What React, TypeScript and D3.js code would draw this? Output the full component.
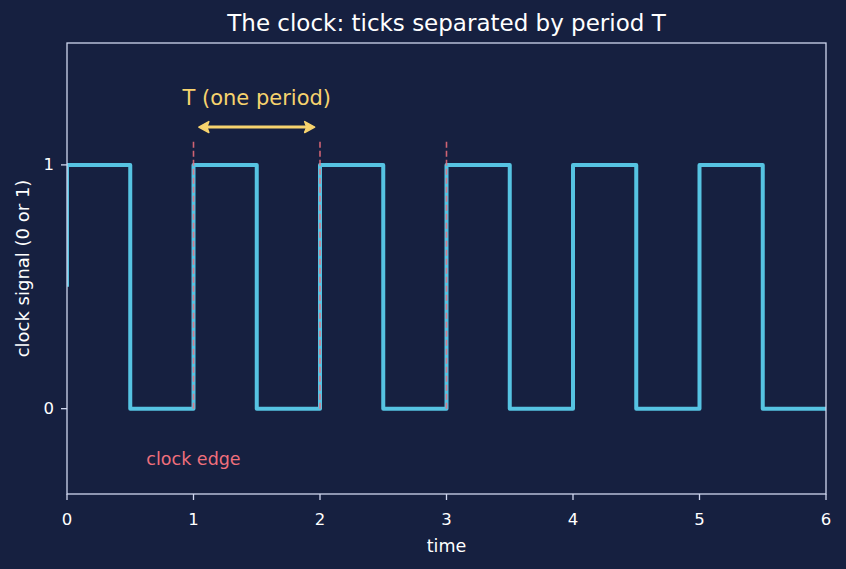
import React from 'react';
import * as d3 from 'd3';

// Clock signal: times of each level change and the level that follows
const edgeTimes = [0, 0, 0.5, 1, 1.5, 2, 2.5, 3, 3.5, 4, 4.5, 5, 5.5, 6];
const levels = [0.5, 1, 0, 1, 0, 1, 0, 1, 0, 1, 0, 1, 0, 0];

// Rising edges that are marked
const markedEdges = [1, 2, 3];

const xTicks = [0, 1, 2, 3, 4, 5, 6];
const yTicks = [0, 1];

const W = 846;
const H = 569;
const margin = { top: 43, right: 20, bottom: 75, left: 67 };

const BG = '#162040';
const AXIS = '#cfd6ee';
const LINE = '#56c3e2';
const EDGE = '#ef6f7c';
const GOLD = '#f7d36e';

const App: React.FC = () => {
  const x = d3.scaleLinear().domain([0, 6]).range([margin.left, W - margin.right]);
  const y = d3.scaleLinear().domain([-0.35, 1.5]).range([H - margin.bottom, margin.top]);

  const pts: [number, number][] = edgeTimes.map((t, i) => [t, levels[i]]);
  const line = d3
    .line<[number, number]>()
    .x((d) => x(d[0]))
    .y((d) => y(d[1]))
    .curve(d3.curveStepAfter);

  const font = "'DejaVu Sans', sans-serif";
  const x0 = x(0);
  const x1 = x(6);
  const yb = y(-0.35);
  const yt = y(1.5);
  const ya = y(1.155);

  return (
    <svg width={W} height={H} style={{ position: 'absolute', left: 0, top: 0, background: BG }} fontFamily={font}>
      <rect width={W} height={H} fill={BG} />
      <defs>
        <clipPath id="plot">
          <rect x={x0} y={yt} width={x1 - x0} height={yb - yt} />
        </clipPath>
      </defs>

      <path
        d={line(pts) ?? ''}
        fill="none"
        stroke={LINE}
        strokeWidth={4}
        strokeLinejoin="round"
        clipPath="url(#plot)"
      />

      {/* edge markers */}
      {markedEdges.map((t) => (
        <line
          key={t}
          x1={x(t)}
          x2={x(t)}
          y1={y(0)}
          y2={y(1.1)}
          stroke={EDGE}
          strokeWidth={1.6}
          strokeDasharray="6 3"
          opacity={0.85}
        />
      ))}

      {/* period arrow */}
      <g stroke={GOLD} fill={GOLD}>
        <line x1={x(1.05) + 6} x2={x(1.95) - 6} y1={ya} y2={ya} strokeWidth={3} />
        <path d={`M${x(1.05) - 1},${ya} l10,-5.5 l-2,5.5 l2,5.5 z`} strokeWidth={1.5} strokeLinejoin="round" />
        <path d={`M${x(1.95) + 1},${ya} l-10,-5.5 l2,5.5 l-2,5.5 z`} strokeWidth={1.5} strokeLinejoin="round" />
      </g>
      <text x={x(1.5)} y={y(1.27)} textAnchor="middle" fill={GOLD} fontSize={21} dominantBaseline="middle">
        T (one period)
      </text>
      <text x={x(1)} y={y(-0.21)} textAnchor="middle" fill={EDGE} fontSize={17.5} dominantBaseline="middle">
        clock edge
      </text>

      {/* frame */}
      <rect x={x0} y={yt} width={x1 - x0} height={yb - yt} fill="none" stroke={AXIS} strokeWidth={1.3} />

      {/* x ticks */}
      {xTicks.map((t) => (
        <g key={t}>
          <line x1={x(t)} x2={x(t)} y1={yb} y2={yb + 6} stroke={AXIS} strokeWidth={1.3} />
          <text x={x(t)} y={yb + 31} textAnchor="middle" fill="#ffffff" fontSize={16.5}>
            {t}
          </text>
        </g>
      ))}
      {yTicks.map((t) => (
        <g key={t}>
          <line x1={x0 - 6} x2={x0} y1={y(t)} y2={y(t)} stroke={AXIS} strokeWidth={1.3} />
          <text x={x0 - 13} y={y(t)} textAnchor="end" dominantBaseline="central" fill="#ffffff" fontSize={16.5}>
            {t}
          </text>
        </g>
      ))}

      <text x={(x0 + x1) / 2} y={552} textAnchor="middle" fill="#ffffff" fontSize={17.5}>
        time
      </text>
      <text
        transform={`translate(29,${(yt + yb) / 2}) rotate(-90)`}
        textAnchor="middle"
        fill="#ffffff"
        fontSize={18}
      >
        clock signal (0 or 1)
      </text>
      <text x={(x0 + x1) / 2} y={31} textAnchor="middle" fill="#ffffff" fontSize={23}>
        The clock: ticks separated by period T
      </text>
    </svg>
  );
};

export default App;
